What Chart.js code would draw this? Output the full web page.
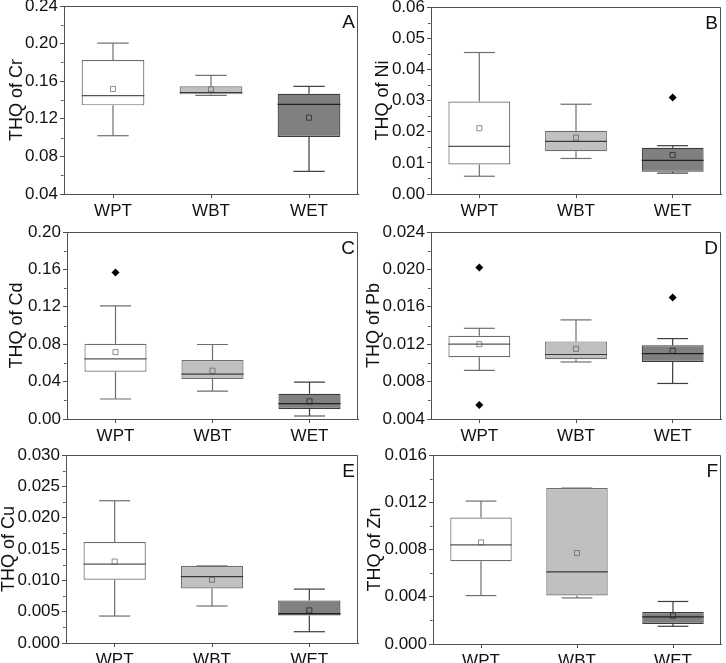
<!DOCTYPE html>
<html>
<head>
<meta charset="utf-8">
<script src="https://cdn.jsdelivr.net/npm/chart.js@4.4.1/dist/chart.umd.min.js"></script>
<style>
  html, body { margin: 0; padding: 0; background: #fff; }
  #wrap { position: relative; width: 726px; height: 663px; overflow: hidden; }
  .panel { position: absolute; width: 363px; height: 221px; }
</style>
</head>
<body>
<div id="wrap"></div>
<script>
const groups = ["WPT", "WBT", "WET"];

// THQ of Cr (panel A)
const crMin = [0.102, 0.1449, 0.0641];
const crQ1 = [0.1343, 0.146, 0.1006];
const crMed = [0.1446, 0.148, 0.1354];
const crQ3 = [0.1826, 0.1545, 0.1467];
const crMax = [0.2005, 0.1662, 0.1545];
const crMean = [0.1517, 0.1513, 0.1212];
const crOut = [[], [], []];

// THQ of Ni (panel B)
const niMin = [0.0057, 0.0114, 0.0067];
const niQ1 = [0.0095, 0.0137, 0.0071];
const niMed = [0.0153, 0.0169, 0.0108];
const niQ3 = [0.0297, 0.0203, 0.0148];
const niMax = [0.0454, 0.0288, 0.0155];
const niMean = [0.0211, 0.0181, 0.0125];
const niOut = [[], [], [0.031]];

// THQ of Cd (panel C)
const cdMin = [0.0214, 0.0299, 0.0032];
const cdQ1 = [0.0505, 0.0427, 0.0107];
const cdMed = [0.0644, 0.048, 0.0164];
const cdQ3 = [0.0804, 0.063, 0.027];
const cdMax = [0.121, 0.0797, 0.0395];
const cdMean = [0.0715, 0.0516, 0.0189];
const cdOut = [[0.1566], [], []];

// THQ of Pb (panel D)
const pbMin = [0.0092, 0.0101, 0.0078];
const pbQ1 = [0.0106, 0.0104, 0.0101];
const pbMed = [0.0120, 0.0109, 0.0110];
const pbQ3 = [0.0129, 0.0123, 0.0119];
const pbMax = [0.0137, 0.0146, 0.0126];
const pbMean = [0.0120, 0.0115, 0.0113];
const pbOut = [[0.0202, 0.0055], [], [0.0170]];

// THQ of Cu (panel E)
const cuMin = [0.0043, 0.0059, 0.0018];
const cuQ1 = [0.0101, 0.0087, 0.0044];
const cuMed = [0.0126, 0.0106, 0.0047];
const cuQ3 = [0.0161, 0.0123, 0.0068];
const cuMax = [0.0227, 0.0123, 0.0086];
const cuMean = [0.0130, 0.0101, 0.0052];
const cuOut = [[], [], []];

// THQ of Zn (panel F)
const znMin = [0.0041, 0.0039, 0.0015];
const znQ1 = [0.0070, 0.0041, 0.0017];
const znMed = [0.0084, 0.0061, 0.0023];
const znQ3 = [0.0107, 0.0132, 0.0027];
const znMax = [0.0121, 0.0132, 0.0036];
const znMean = [0.0086, 0.0077, 0.0024];
const znOut = [[], [], []];

const fills = ["#ffffff", "#c0c0c0", "#808080"];
const edges = ["#6e6e6e", "#6e6e6e", "#3c3c3c"];
const medColors = ["#555555", "#3a3a3a", "#202020"];
const meanColors = ["#8c8c8c", "#777777", "#3a3a3a"];
const AXIS = "#505050";
const TEXT = "#111111";

Chart.defaults.font.family = "'Liberation Sans', Arial, sans-serif";
Chart.defaults.color = TEXT;

const panels = [
  { letter: "A", title: "THQ of Cr", min: 0.04, max: 0.24, step: 0.02, dec: 2,
    lo: crMin, q1: crQ1, med: crMed, q3: crQ3, hi: crMax, mean: crMean, out: crOut,
    pos: [0, 0], L: 64, R: 359, T: 6, B: 194, tp: 6 },
  { letter: "B", title: "THQ of Ni", min: 0, max: 0.06, step: 0.01, dec: 2,
    lo: niMin, q1: niQ1, med: niMed, q3: niQ3, hi: niMax, mean: niMean, out: niOut,
    pos: [363, 0], L: 68, R: 361, T: 7, B: 194, tp: 9 },
  { letter: "C", title: "THQ of Cd", min: 0, max: 0.2, step: 0.04, dec: 2,
    lo: cdMin, q1: cdQ1, med: cdMed, q3: cdQ3, hi: cdMax, mean: cdMean, out: cdOut,
    pos: [0, 221], L: 67, R: 358, T: 11, B: 198, tp: 6 },
  { letter: "D", title: "THQ of Pb", min: 0.004, max: 0.024, step: 0.004, dec: 3,
    lo: pbMin, q1: pbQ1, med: pbMed, q3: pbQ3, hi: pbMax, mean: pbMean, out: pbOut,
    pos: [363, 221], L: 68, R: 361, T: 11, B: 198, tp: 0 },
  { letter: "E", title: "THQ of Cu", min: 0, max: 0.03, step: 0.005, dec: 3,
    lo: cuMin, q1: cuQ1, med: cuMed, q3: cuQ3, hi: cuMax, mean: cuMean, out: cuOut,
    pos: [0, 442], L: 66, R: 360, T: 13, B: 201, tp: -2 },
  { letter: "F", title: "THQ of Zn", min: 0, max: 0.016, step: 0.004, dec: 3,
    lo: znMin, q1: znQ1, med: znMed, q3: znQ3, hi: znMax, mean: znMean, out: znOut,
    pos: [363, 442], L: 70, R: 362, T: 13, B: 202, tp: 1 },
];

const HALF_BOX = 0.32;  // half box width in category units
const HALF_CAP = 0.16;

// top/right frame, minor ticks and panel letter
const framePlugin = {
  id: "frame",
  afterDraw(chart, args, opts) {
    const { ctx, chartArea: a, scales } = chart;
    const top = Math.round(a.top) + 0.5;
    const right = Math.round(a.right) - 0.5;
    const left = Math.round(a.left) - 0.5;
    ctx.save();
    ctx.strokeStyle = AXIS;
    ctx.lineWidth = 1;
    ctx.beginPath();
    ctx.moveTo(left, top);
    ctx.lineTo(right, top);
    ctx.lineTo(right, Math.round(a.bottom));
    // minor ticks halfway between major ticks
    const t = scales.y.ticks;
    for (let i = 1; i < t.length; i++) {
      const y = Math.round(scales.y.getPixelForValue((t[i - 1].value + t[i].value) / 2)) + 0.5;
      ctx.moveTo(left - 2.5, y);
      ctx.lineTo(left, y);
    }
    ctx.stroke();
    ctx.fillStyle = TEXT;
    ctx.font = "19px 'Liberation Sans', Arial, sans-serif";
    ctx.textAlign = "right";
    ctx.textBaseline = "alphabetic";
    ctx.fillText(opts.letter, a.right - 3, a.top + 22);
    ctx.restore();
  }
};

const wrap = document.getElementById("wrap");

panels.forEach((p) => {
  const div = document.createElement("div");
  div.className = "panel";
  div.style.left = p.pos[0] + "px";
  div.style.top = p.pos[1] + "px";
  const canvas = document.createElement("canvas");
  canvas.width = 363;
  canvas.height = 221;
  div.appendChild(canvas);
  wrap.appendChild(div);

  const boxes = groups.map((g, i) => ({ x: i + 1, y: [p.q1[i], p.q3[i]] }));
  const medians = groups.flatMap((g, i) => [
    { x: i + 1 - HALF_BOX, y: p.med[i] }, { x: i + 1 + HALF_BOX, y: p.med[i] }, { x: i + 1, y: null }
  ]);
  const whiskers = groups.flatMap((g, i) => [
    { x: i + 1, y: p.q3[i] }, { x: i + 1, y: p.hi[i] }, { x: i + 1, y: null },
    { x: i + 1, y: p.q1[i] }, { x: i + 1, y: p.lo[i] }, { x: i + 1, y: null }
  ]);
  const caps = groups.flatMap((g, i) => [
    { x: i + 1 - HALF_CAP, y: p.hi[i] }, { x: i + 1 + HALF_CAP, y: p.hi[i] }, { x: i + 1, y: null },
    { x: i + 1 - HALF_CAP, y: p.lo[i] }, { x: i + 1 + HALF_CAP, y: p.lo[i] }, { x: i + 1, y: null }
  ]);
  const means = groups.map((g, i) => ({ x: i + 1, y: p.mean[i] }));
  const outliers = groups.flatMap((g, i) => p.out[i].map((v) => ({ x: i + 1, y: v })));

  const lineBase = { type: "line", pointRadius: 0, borderWidth: 1.2, fill: false, spanGaps: false };

  new Chart(canvas, {
    type: "bar",
    data: {
      datasets: [
        { ...lineBase, label: "median", data: medians, order: 0,
          segment: { borderColor: (c) => medColors[Math.floor(c.p0DataIndex / 3)] } },
        { type: "line", label: "mean", data: means, order: 1, showLine: false,
          pointStyle: "rect", pointRadius: 3.6, pointBorderWidth: 1,
          pointBackgroundColor: "rgba(0,0,0,0)", pointBorderColor: meanColors },
        { type: "line", label: "outliers", data: outliers, order: 2, showLine: false,
          pointStyle: "rectRot", pointRadius: 4, pointBorderWidth: 0,
          pointBackgroundColor: "#000", pointBorderColor: "#000" },
        { ...lineBase, label: "whiskers", data: whiskers, order: 3,
          segment: { borderColor: (c) => edges[Math.floor(c.p0DataIndex / 6)] } },
        { ...lineBase, label: "caps", data: caps, order: 4,
          segment: { borderColor: (c) => edges[Math.floor(c.p0DataIndex / 6)] } },
        { label: "box", data: boxes, order: 5,
          backgroundColor: fills, borderColor: edges, borderWidth: 1.2,
          borderSkipped: false, categoryPercentage: 1, barPercentage: 2 * HALF_BOX }
      ]
    },
    options: {
      responsive: false,
      devicePixelRatio: 1,
      animation: false,
      events: [],
      layout: { padding: { left: 0, top: p.T, right: 363 - p.R, bottom: 0 } },
      plugins: {
        legend: { display: false },
        tooltip: { enabled: false },
        frame: { letter: p.letter }
      },
      scales: {
        x: {
          type: "linear",
          min: 0.5,
          max: 3.5,
          offset: false,
          afterBuildTicks: (s) => { s.ticks = groups.map((g, i) => ({ value: i + 1 })); },
          ticks: {
            callback: (v) => groups[Math.round(v) - 1] || "",
            font: { size: 17 },
            color: TEXT,
            padding: 3,
            maxRotation: 0,
            autoSkip: false
          },
          grid: { display: true, offset: false, drawOnChartArea: false, tickLength: 4, color: AXIS },
          border: { display: true, color: AXIS, width: 1 },
          afterFit: (s) => { s.height = 221 - p.B; s.paddingLeft = 0; s.paddingRight = 0; }
        },
        y: {
          min: p.min,
          max: p.max,
          ticks: {
            stepSize: p.step,
            callback: (v) => v.toFixed(p.dec),
            font: { size: 17 },
            color: TEXT,
            padding: 2
          },
          grid: { display: true, drawOnChartArea: false, tickLength: 4, color: AXIS },
          border: { display: true, color: AXIS, width: 1 },
          title: { display: true, text: p.title, font: { size: 18 }, color: TEXT, padding: { top: p.tp, bottom: 0 } },
          afterFit: (s) => { s.width = p.L; s.paddingTop = 0; s.paddingBottom = 0; }
        }
      }
    },
    plugins: [framePlugin]
  });
});
</script>
</body>
</html>
